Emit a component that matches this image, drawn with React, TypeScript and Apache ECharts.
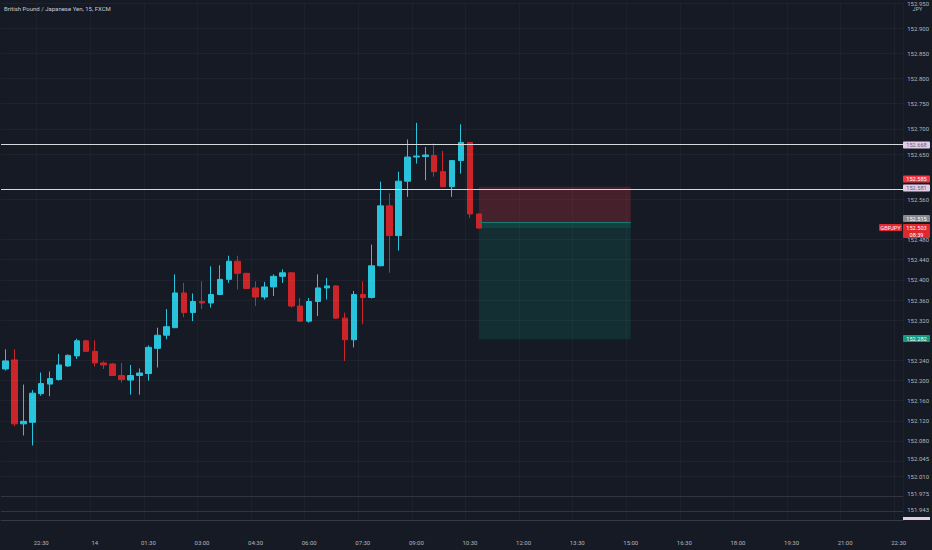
import React, { useEffect, useRef } from "react";
import * as echarts from "echarts";

// ---- data ----
const TITLE = "British Pound / Japanese Yen, 15, FXCM";
const CURRENCY = "JPY";
const SYMBOL_TAG = "GBPJPY";
const COUNTDOWN = "08:39";

const SLOT_COUNT = 101; // 15-minute slots shown on the time axis
const START_HOUR = 21;
const START_MIN = 30;
const MIDNIGHT_LABEL = "14";

const OPEN = [
  152.223, 152.241, 152.114, 152.117, 152.174, 152.193, 152.202, 152.229, 152.249, 152.279,
  152.258, 152.235, 152.233, 152.21, 152.201, 152.21, 152.214, 152.264, 152.29, 152.305,
  152.374, 152.335, 152.357, 152.354, 152.371, 152.401, 152.437, 152.413, 152.384, 152.366,
  152.386, 152.407, 152.414, 152.348, 152.318, 152.357, 152.384, 152.388, 152.324, 152.281,
  152.371, 152.365, 152.428, 152.547, 152.488, 152.596, 152.644, 152.645, 152.647, 152.615,
  152.585, 152.637, 152.673, 152.531,
];
const CLOSE = [
  152.239, 152.114, 152.119, 152.175, 152.194, 152.204, 152.231, 152.25, 152.279, 152.258,
  152.235, 152.231, 152.21, 152.202, 152.21, 152.215, 152.266, 152.29, 152.307, 152.374,
  152.335, 152.357, 152.354, 152.371, 152.401, 152.437, 152.413, 152.383, 152.366, 152.386,
  152.407, 152.414, 152.348, 152.318, 152.357, 152.384, 152.388, 152.324, 152.281, 152.371,
  152.365, 152.428, 152.547, 152.488, 152.596, 152.644, 152.646, 152.648, 152.615, 152.585,
  152.637, 152.673, 152.531, 152.503,
];
const LOW = [
  152.22, 152.109, 152.091, 152.071, 152.17, 152.169, 152.2, 152.227, 152.243, 152.257,
  152.228, 152.223, 152.209, 152.196, 152.172, 152.172, 152.2, 152.226, 152.282, 152.305,
  152.326, 152.318, 152.342, 152.345, 152.37, 152.394, 152.381, 152.382, 152.348, 152.361,
  152.368, 152.394, 152.345, 152.317, 152.315, 152.328, 152.361, 152.323, 152.239, 152.266,
  152.312, 152.363, 152.427, 152.414, 152.458, 152.565, 152.631, 152.598, 152.605, 152.584,
  152.565, 152.611, 152.523, 152.502,
];
const HIGH = [
  152.262, 152.262, 152.192, 152.181, 152.216, 152.218, 152.253, 152.252, 152.283, 152.281,
  152.28, 152.238, 152.235, 152.235, 152.231, 152.224, 152.27, 152.305, 152.342, 152.411,
  152.394, 152.373, 152.397, 152.427, 152.429, 152.448, 152.448, 152.414, 152.397, 152.396,
  152.411, 152.421, 152.415, 152.364, 152.364, 152.411, 152.404, 152.389, 152.335, 152.378,
  152.397, 152.47, 152.595, 152.572, 152.615, 152.679, 152.712, 152.664, 152.671, 152.656,
  152.638, 152.709, 152.674, 152.532,
];

const Y_MIN = 151.923;
const Y_MAX = 152.951;
const Y_TICKS = [
  152.95, 152.9, 152.85, 152.8, 152.75, 152.7, 152.65, 152.56, 152.48, 152.44, 152.4, 152.36,
  152.32, 152.24, 152.2, 152.16, 152.12, 152.08, 152.045, 152.01, 151.975, 151.943,
];
const STRONG_GRID = [151.975, 151.943];

const H_LINES = [152.668, 152.581];
const STOP = 152.585;
const ENTRY = 152.515;
const TARGET = 152.282;
const LAST = 152.503;
const POS_START = 53;
const POS_END = 70;

// ---- helpers ----
const pad = (n: number) => (n < 10 ? "0" + n : "" + n);
const CATEGORIES: string[] = [];
for (let i = 0; i < SLOT_COUNT; i++) {
  const m = (START_HOUR * 60 + START_MIN + 15 * i) % 1440;
  CATEGORIES.push(pad(Math.floor(m / 60)) + ":" + pad(m % 60));
}
const showTick = (index: number) => index >= 4 && (index - 4) % 6 === 0;

const BG = "#161a25";
const UP = "#27c4db";
const DOWN = "#cc2529";
const FONT = "Roboto";

export default function App() {
  const ref = useRef<HTMLDivElement>(null);

  useEffect(() => {
    if (!ref.current) return;
    const chart = echarts.init(ref.current, null, { renderer: "svg" });

    const candles = OPEN.map((o, i) => [o, CLOSE[i], LOW[i], HIGH[i]]);

    const gridLines = Y_TICKS.map((v) => ({
      yAxis: v,
      lineStyle: { color: "rgba(255,255,255,0.035)", width: 1, type: "solid" },
    }));
    const strongLines = STRONG_GRID.map((v) => ({
      yAxis: v,
      lineStyle: { color: "rgba(255,255,255,0.09)", width: 1, type: "solid" },
    }));
    const whiteLines = H_LINES.map((v) => ({
      yAxis: v,
      lineStyle: { color: "#d6d8de", width: 1, type: "solid" },
    }));

    chart.setOption({
      animation: false,
      backgroundColor: BG,
      grid: { left: 1, right: 28, top: 0, bottom: 30 },
      xAxis: {
        type: "category",
        data: CATEGORIES,
        boundaryGap: true,
        axisLine: { show: true, lineStyle: { color: "#363a45" } },
        axisTick: { show: false },
        splitLine: {
          show: true,
          interval: (i: number) => showTick(i),
          lineStyle: { color: "rgba(255,255,255,0.03)" },
        },
        axisLabel: {
          interval: (i: number) => showTick(i),
          formatter: (v: string) => (v === "00:00" ? MIDNIGHT_LABEL : v),
          color: "#b2b5be",
          fontSize: 6,
          fontFamily: FONT,
          margin: 19,
        },
      },
      yAxis: {
        type: "value",
        position: "right",
        min: Y_MIN,
        max: Y_MAX,
        scale: true,
        axisLine: { show: false },
        axisTick: { show: false, customValues: Y_TICKS },
        splitLine: { show: false },
        axisLabel: {
          customValues: Y_TICKS,
          formatter: (v: number) => v.toFixed(3),
          color: "#b2b5be",
          fontSize: 6,
          fontFamily: FONT,
          margin: 4,
        },
      },
      series: [
        {
          type: "candlestick",
          data: candles,
          barWidth: 6,
          itemStyle: {
            color: UP,
            color0: DOWN,
            borderColor: UP,
            borderColor0: DOWN,
            borderWidth: 1,
          },
          markLine: {
            silent: true,
            symbol: "none",
            label: { show: false },
            data: [
              ...gridLines,
              ...strongLines,
              ...whiteLines,
              [
                {
                  coord: [CATEGORIES[POS_START], ENTRY],
                  lineStyle: { color: "#1d7a70", width: 1, type: "solid" },
                },
                { coord: [CATEGORIES[POS_END], ENTRY] },
              ],
            ],
          },
          markArea: {
            silent: true,
            data: [
              [
                { coord: [CATEGORIES[POS_START], STOP], itemStyle: { color: "rgba(242,54,69,0.22)" } },
                { coord: [CATEGORIES[POS_END], ENTRY] },
              ],
              [
                { coord: [CATEGORIES[POS_START], ENTRY], itemStyle: { color: "rgba(8,153,129,0.17)" } },
                { coord: [CATEGORIES[POS_END], TARGET] },
              ],
              [
                { coord: [CATEGORIES[POS_START], ENTRY], itemStyle: { color: "rgba(8,153,129,0.18)" } },
                { coord: [CATEGORIES[POS_END], LAST] },
              ],
            ],
          },
        },
      ],
    });

    // price tags on the right scale, positioned through the y axis
    const py = (v: number) => chart.convertToPixel({ yAxisIndex: 0 }, v) as number;
    const tagX = 903;
    const tagW = 27;
    const tagH = 7;
    const tag = (
      value: number,
      text: string,
      bg: string,
      fg: string,
      nudge: number
    ) => {
      const cy = py(value) + nudge;
      return {
        type: "group",
        z: 100,
        children: [
          { type: "rect", shape: { x: tagX, y: cy - tagH / 2, width: tagW, height: tagH, r: 1 }, style: { fill: bg } },
          {
            type: "text",
            style: {
              text,
              x: tagX + tagW / 2,
              y: cy + 0.3,
              fill: fg,
              fontSize: 5.6,
              fontFamily: FONT,
              align: "center",
              verticalAlign: "middle",
            },
          },
        ],
      };
    };
    const lastY = py(LAST);
    const graphics: any[] = [
      {
        type: "text",
        z: 100,
        style: { text: TITLE, x: 4, y: 8, fill: "#c8cad0", fontSize: 6, fontFamily: FONT, verticalAlign: "middle" },
      },
      {
        type: "text",
        z: 100,
        style: { text: CURRENCY, x: 917.5, y: 8.5, fill: "#b2b5be", fontSize: 5.5, fontFamily: FONT, align: "center", verticalAlign: "middle" },
      },
      tag(H_LINES[0], H_LINES[0].toFixed(3), "#e3cde6", "#6a5a78", 0),
      tag(STOP, STOP.toFixed(3), "#f23645", "#ffffff", -7.8),
      tag(H_LINES[1], H_LINES[1].toFixed(3), "#e3cde6", "#6a5a78", -0.8),
      tag(ENTRY, ENTRY.toFixed(3), "#868993", "#ffffff", -3.5),
      tag(TARGET, TARGET.toFixed(3), "#0e9a84", "#ffffff", -0.7),
      {
        type: "group",
        z: 101,
        children: [
          { type: "rect", shape: { x: tagX, y: lastY - 3.9, width: tagW, height: 14, r: 1 }, style: { fill: "#e0262f" } },
          {
            type: "text",
            style: { text: LAST.toFixed(3), x: tagX + tagW / 2, y: lastY - 0.3, fill: "#ffffff", fontSize: 5.6, fontFamily: FONT, align: "center", verticalAlign: "middle" },
          },
          {
            type: "text",
            style: { text: COUNTDOWN, x: tagX + tagW / 2, y: lastY + 6.6, fill: "#ffffff", fontSize: 5.6, fontFamily: FONT, align: "center", verticalAlign: "middle" },
          },
          { type: "rect", shape: { x: 879, y: lastY - 3.9, width: 23, height: 7, r: 1 }, style: { fill: "#e0262f" } },
          {
            type: "text",
            style: { text: SYMBOL_TAG, x: 890.5, y: lastY - 0.3, fill: "#ffffff", fontSize: 5.6, fontFamily: FONT, align: "center", verticalAlign: "middle" },
          },
        ],
      },
      {
        type: "rect",
        z: 100,
        shape: { x: tagX, y: 517, width: tagW, height: 3 },
        style: { fill: "#e3cde6" },
      },
    ];
    chart.setOption({ graphic: graphics });

    return () => chart.dispose();
  }, []);

  return (
    <div
      ref={ref}
      style={{ position: "fixed", left: 0, top: 0, width: 932, height: 550 }}
    />
  );
}
